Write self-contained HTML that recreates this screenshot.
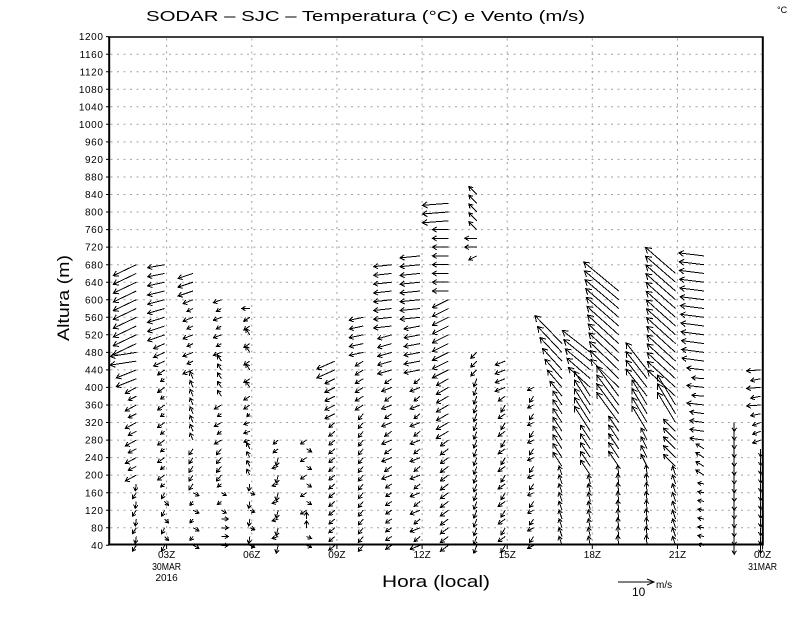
<!DOCTYPE html>
<html><head><meta charset="utf-8">
<style>
html,body{margin:0;padding:0;background:#fff;}
svg{display:block;font-family:"Liberation Sans",sans-serif;}
</style></head>
<body>
<svg id="s" width="800" height="618" viewBox="0 0 800 618" xmlns="http://www.w3.org/2000/svg">
<rect width="800" height="618" fill="#fff"/>
<g id="grid" stroke="#a0a0a0" stroke-width="1" stroke-dasharray="2 4.5" fill="none"></g>
<g id="arrows" stroke="#000" stroke-width="1" fill="none" shape-rendering="crispEdges"></g>
<g id="axes" stroke="#000" fill="none">
<line x1="109.2" y1="36.5" x2="109.2" y2="545.5" stroke-width="2"/>
<line x1="108.2" y1="544.5" x2="763.5" y2="544.5" stroke-width="2"/>
<line x1="108.2" y1="37" x2="763.5" y2="37" stroke-width="1.6"/>
<line x1="762.8" y1="36.5" x2="762.8" y2="545.5" stroke-width="2"/>
</g>
<g id="ticks" stroke="#000" stroke-width="1"></g>
<g id="ylab" font-size="10" fill="#000" text-anchor="end" letter-spacing="0.6"></g>
<g font-size="10" fill="#000" text-anchor="middle">
<text x="166.6" y="558">03Z</text>
<text x="166.6" y="570" textLength="29" lengthAdjust="spacingAndGlyphs">30MAR</text>
<text x="166.6" y="581">2016</text>
<text x="251.8" y="558">06Z</text>
<text x="336.9" y="558">09Z</text>
<text x="422.1" y="558">12Z</text>
<text x="507.2" y="558">15Z</text>
<text x="592.4" y="558">18Z</text>
<text x="677.5" y="558">21Z</text>
<text x="762.6" y="558">00Z</text>
<text x="762.6" y="570" textLength="29" lengthAdjust="spacingAndGlyphs">31MAR</text>
</g>
<text x="146" y="21" font-size="15" fill="#000" textLength="439" lengthAdjust="spacingAndGlyphs">SODAR – SJC – Temperatura (°C) e Vento (m/s)</text>
<text x="777" y="13" font-size="9" fill="#000">°C</text>
<text x="382" y="587" font-size="17" fill="#000" textLength="108" lengthAdjust="spacingAndGlyphs">Hora (local)</text>
<text transform="translate(69,298) rotate(-90)" font-size="17" fill="#000" text-anchor="middle" textLength="86" lengthAdjust="spacingAndGlyphs">Altura (m)</text>
<g stroke="#000" stroke-width="1" fill="none">
<line x1="618" y1="582" x2="654" y2="582"/>
<polyline points="647,579 654,582 647,585"/>
</g>
<text x="632" y="596" font-size="12" fill="#000">10</text>
<text x="656" y="588" font-size="10" fill="#000">m/s</text>
</svg>
<script>
(function(){
var NS='http://www.w3.org/2000/svg';
function X(h){return 81.5+28.38*h;}
function Y(m){return 545.3-(m-40)*0.4385;}
function el(tag,attrs,parent){var e=document.createElementNS(NS,tag);for(var k in attrs)e.setAttribute(k,attrs[k]);parent.appendChild(e);return e;}
var grid=document.getElementById('grid');
var gd='';
for(var m=80;m<=1160;m+=40){var y=Y(m).toFixed(1);gd+='M110.5 '+y+'H762';}
for(var h=3;h<=21;h+=3){var x=X(h).toFixed(1);gd+='M'+x+' 38.5V543';}
el('path',{d:gd},grid);
var ticks=document.getElementById('ticks');var td='';
var ylab=document.getElementById('ylab');
for(var m=40;m<=1200;m+=40){var y=Y(m);td+='M106 '+y.toFixed(1)+'H109';
 var t=el('text',{x:'103.5',y:(y+3.6).toFixed(1)},ylab);t.textContent=String(m);}
for(var h=3;h<=24;h+=3){td+='M'+X(h).toFixed(1)+' 545V549';}
el('path',{d:td},ticks);
var d='';
function f(v){return v.toFixed(1);}
function arrow(x,y,dx,dy){
 var L=Math.sqrt(dx*dx+dy*dy);if(L<0.5)return;
 var hx=x+dx,hy=y+dy;
 var hl=Math.min(6.5,3.6+L*0.08);
 var bx=-dx/L,by=-dy/L,c=Math.cos(0.55),s=Math.sin(0.55);
 var w1x=bx*c-by*s,w1y=bx*s+by*c,w2x=bx*c+by*s,w2y=-bx*s+by*c;
 d+='M'+f(x)+' '+f(y)+'L'+f(hx)+' '+f(hy)+'M'+f(hx+w1x*hl)+' '+f(hy+w1y*hl)+'L'+f(hx)+' '+f(hy)+'L'+f(hx+w2x*hl)+' '+f(hy+w2y*hl);
}
var N=null;
var cols=[
[2,-2,[[40,180,-4,6,N,N,-1,7],[200,400,-11,6,N,N,-8,4],[420,440,-20,8],[460,480,-26,4],[500,680,-23,11]]],
[3,-2,[[40,160,-3,6,N,N,4,4],[180,440,-7,5,N,N,-4,3],[460,500,-11,5],[520,680,-17,6,-17,3]]],
[4,-2,[[40,160,6,3,N,N,-3,4],[180,260,-4,6],[280,420,-3,-7],[440,600,-10,4,N,N,-6,3],[620,660,-15,5]]],
[5,-2,[[40,100,7,0],[120,180,5,3,N,N,-4,3],[200,260,-5,6],[280,360,-7,4,N,N,-4,3],[380,460,-4,-6],[480,600,-8,3,N,N,-5,3]]],
[6,-2,[[40,180,5,2,N,N,-1,7],[200,260,-3,-6],[280,320,-6,2],[340,360,-6,4,N,N,-3,3],[380,540,-4,-6,N,N,-6,4],[560,560,-6,4],[580,580,-8,0]]],
[7,-2,[[40,240,-2,8,N,N,-6,2],[260,280,-5,4]]],
[8,-2,[[40,60,5,2],[80,100,0,-7],[120,280,-6,4,N,N,5,3]]],
[9,-2,[[40,320,-6,5],[340,420,-10,5],[440,460,-18,8]]],
[10,-2,[[40,340,-5,6],[360,460,-8,5],[480,560,-14,3]]],
[11,-2,[[40,180,-6,4],[200,420,-10,4,N,N,-7,5],[440,520,-14,4],[540,680,-18,2]]],
[12,-2,[[40,420,-10,4,N,N,-6,5],[440,540,-16,3],[560,700,-20,2]]],
[13,-2,[[40,280,-8,6],[300,420,-12,7],[440,600,-16,8],[620,760,-16,0],[780,820,-26,2]]],
[14,-2,[[40,420,-3,8],[440,480,-6,6],[700,700,-8,4],[720,740,-12,0],[760,840,-8,-8]]],
[15,-2,[[40,380,-4,7,N,N,-7,5],[400,460,-10,4]]],
[16,-2,[[40,400,-6,3,N,N,-4,6]]],
[17,-2,[[40,200,-3,-9],[220,360,-9,-14],[380,500,-12,-15,-27,-28]]],
[18,-2,[[40,180,-2,-9],[200,280,-10,-15],[300,380,-16,-25],[400,480,-22,-20,-28,-22]]],
[19,-2,[[40,200,-1,-10],[220,300,-10,-15],[320,380,-22,-30],[400,620,-28,-28,-35,-29]]],
[20,-2,[[40,200,-1,-10],[220,280,-6,-12],[300,360,-15,-25],[380,440,-21,-27]]],
[21,-2,[[40,200,-3,-9],[220,300,-12,-12],[320,360,-18,-30],[380,660,-28,-26,-30,-26]]],
[22,-2,[[40,180,-6,-1],[200,260,-8,-5],[280,340,-14,-2],[360,440,-17,-2,N,N,-12,-1],[460,700,-22,-3,-25,-3]]],
[23,0,[[40,320,0,9]]],
[24,-2,[[40,260,0,8],[280,320,-8,3],[340,440,-14,1,N,N,-10,2]]]
];
for(var i=0;i<cols.length;i++){
 var c=cols[i],cx=X(c[0])+c[1],segs=c[2],k=0;
 for(var j=0;j<segs.length;j++){
  var s=segs[j],m0=s[0],m1=s[1];
  var dx0=s[2],dy0=s[3],dx1=(s[4]==null?dx0:s[4]),dy1=(s[5]==null?dy0:s[5]);
  for(var m=m0;m<=m1;m+=20){
   var t=(m1>m0)?(m-m0)/(m1-m0):0;
   var dx=dx0+(dx1-dx0)*t,dy=dy0+(dy1-dy0)*t;
   if(s[6]!=null && (k%2==1)){dx=s[6];dy=s[7];}
   arrow(cx,Y(m),dx,dy);k++;
  }
 }
}
el('path',{d:d},document.getElementById('arrows'));
})();
</script>
</body></html>
